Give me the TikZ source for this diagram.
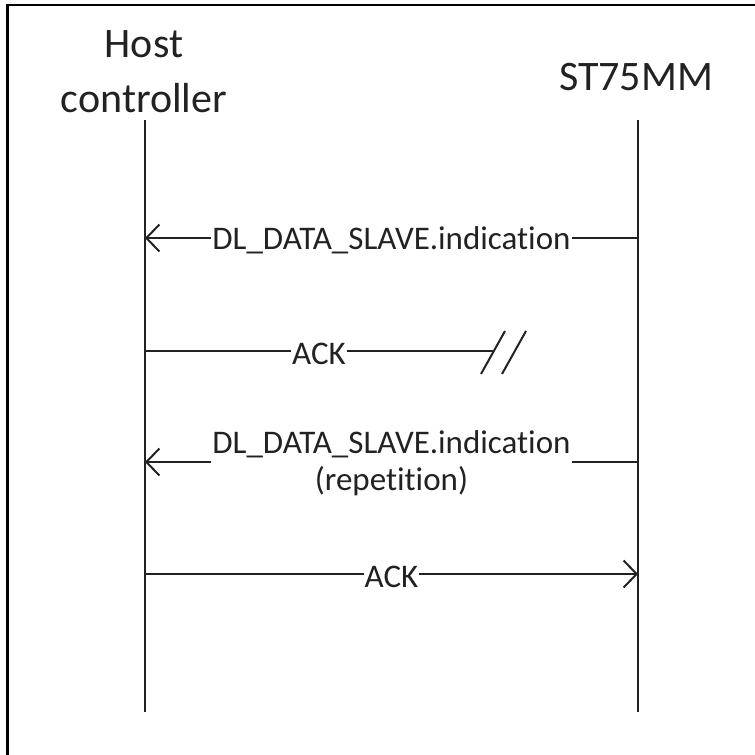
\documentclass[tikz,border=0pt]{standalone}
\usepackage{fontspec}
\setmainfont[RawFeature={-liga,-clig,-calt,-dlig,-rlig}]{Carlito}
\usetikzlibrary{arrows.meta}
\definecolor{ink}{HTML}{222222}
\begin{document}
\begin{tikzpicture}[x=1pt,y=-1pt,
  title/.style={font=\fontsize{42}{50}\selectfont, text=ink, anchor=base, inner sep=0pt},
  lifeline/.style={draw=ink, line width=2pt},
  msg/.style={draw=ink, line width=2pt},
  tip/.style={-{Straight Barb[length=13pt,width=27pt,line width=2pt]}},
  lbl/.style={font=\fontsize{33}{37}\selectfont, text=ink, fill=white, inner xsep=1pt, inner ysep=0pt, align=center}
]
\useasboundingbox (0,0) rectangle (755,755);
\clip (0,0) rectangle (755,755);
\draw[black, line width=2.5pt] (7.5,5) rectangle (800,800);

% titles
\node[title] (hostA) at (144,57) {Host};
\node[title] (hostB) at (144,112) {controller};
\node[title] (st) at (636,90) {ST75MM};

% lifelines
\coordinate (hT) at (145,120);
\coordinate (hB) at (145,712);
\coordinate (sT) at (638,120);
\coordinate (sB) at (638,712);
\draw[lifeline] (hT) -- (hB);
\draw[lifeline] (sT) -- (sB);

% message 1
\coordinate (s1) at (638,238);
\coordinate (h1) at (145,238);
\draw[msg,tip] (s1) -- node[lbl, yshift=-2pt] (m1) {DL\_DATA\_SLAVE.indication} (h1);

% message 2 (lost)
\coordinate (h2) at (145,351);
\coordinate (x2) at (493,351);
\draw[msg] (h2) -- node[lbl, yshift=-3pt] (m2) {ACK} (x2);
\coordinate (a1) at (481,374);
\coordinate (a2) at (505,331);
\coordinate (b1) at (502,374);
\coordinate (b2) at (526,331);
\draw[msg] (a1) -- (a2);
\draw[msg] (b1) -- (b2);

% message 3
\coordinate (s3) at (638,462);
\coordinate (h3) at (145,462);
\draw[msg,tip] (s3) -- node[lbl, yshift=-1pt] (m3) {DL\_DATA\_SLAVE.indication\\(repetition)} (h3);

% message 4
\coordinate (h4) at (145,574);
\coordinate (s4) at (638,574);
\draw[msg,tip] (h4) -- node[lbl, yshift=-3pt] (m4) {ACK} (s4);
\end{tikzpicture}
\end{document}
